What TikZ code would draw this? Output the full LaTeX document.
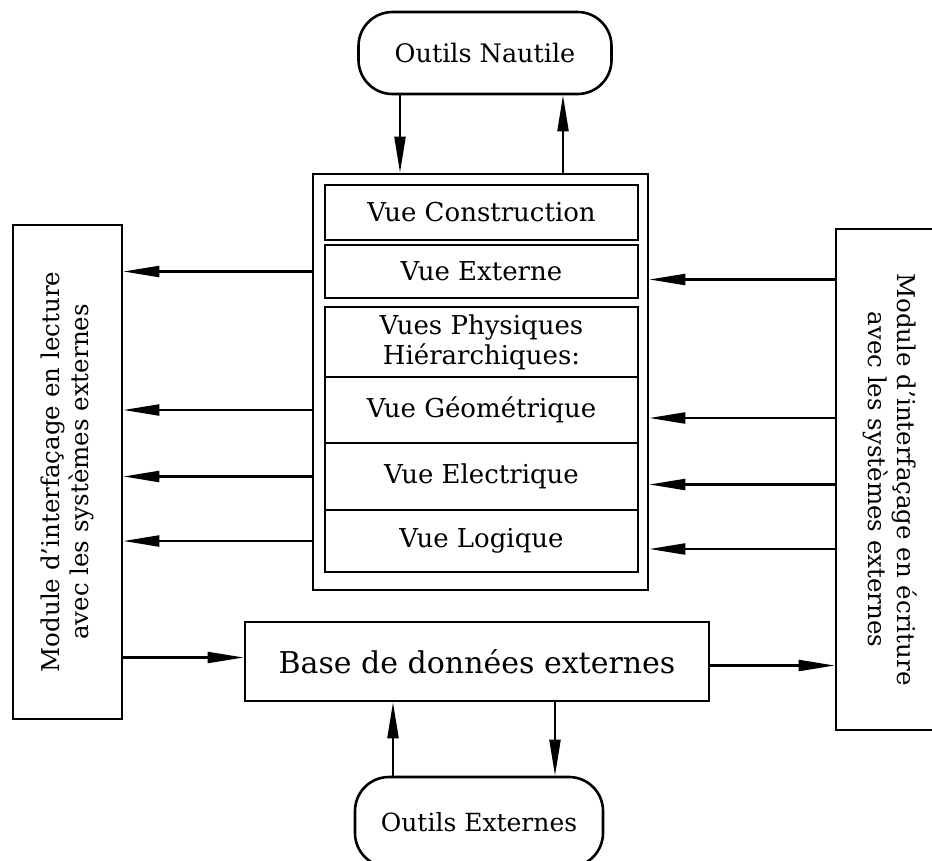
\documentclass[tikz,border=0pt]{standalone}
\usepackage{fontspec}
\setmainfont{DejaVu Serif}
\usetikzlibrary{arrows.meta,calc}
\begin{document}
\begin{tikzpicture}[x=1pt,y=-1pt,
  box/.style={draw, line width=2.6pt, inner sep=0pt, align=center},
  cell/.style={inner sep=0pt, align=center, minimum width=313pt, font=\vuefont},
  divider/.style={line width=1.8pt},
  arr/.style={line width=2.2pt, -{Triangle[length=36pt,width=11pt]}},
]
\newcommand\vuefont{\fontsize{26}{30}\selectfont}
\useasboundingbox (0,0) rectangle (932,860);

% tool boxes
\node[box, rounded corners=34pt, minimum width=253pt, minimum height=82pt,
      font=\fontsize{25.5}{30}\selectfont] (nautile) at (485,53) {Outils Nautile};
\node[box, rounded corners=34pt, minimum width=248pt, minimum height=90pt,
      font=\fontsize{25}{30}\selectfont] (oext) at (479,822) {Outils Externes};

% central block of views
\node[box, minimum width=335pt, minimum height=416pt] (outer) at (480.5,382) {};
\node[box, minimum width=313pt, minimum height=55pt, font=\vuefont] (vcons) at (481.5,212.5) {Vue Construction};
\node[box, minimum width=313pt, minimum height=53pt, font=\vuefont] (vext) at (481.5,271.5) {Vue Externe};
\node[box, minimum width=313pt, minimum height=265pt] (phys) at (481.5,439.5) {};
\node[cell, minimum height=70pt] (vhier) at (481.5,342) {Vues Physiques\\Hiérarchiques:};
\node[cell, minimum height=66pt] (vgeo) at (481.5,410) {Vue Géométrique};
\node[cell, minimum height=67pt] (velec) at (481.5,476.5) {Vue Electrique};
\node[cell, minimum height=62pt] (vlog) at (481.5,541) {Vue Logique};
\draw[divider] (vhier.south west) -- (vhier.south east);
\draw[divider] (vgeo.south west) -- (vgeo.south east);
\draw[divider] (velec.south west) -- (velec.south east);

% interface modules
\node[box, rotate=90, minimum width=494pt, minimum height=109pt,
      font=\fontsize{24.5}{29}\selectfont] (lbox) at (67.5,472)
      {Module d'interfaçage en lecture\\avec les systèmes externes};
\node[box, rotate=-90, minimum width=501pt, minimum height=109pt,
      font=\fontsize{24.5}{29}\selectfont] (rbox) at (890.5,479.5)
      {Module d'interfaçage en écriture\\avec les systèmes externes};

% external database
\node[box, minimum width=464pt, minimum height=79pt,
      font=\fontsize{30}{34}\selectfont] (base) at (477,661.5) {Base de données externes};

% Nautile tools <-> views
\draw[arr] ([xshift=-85pt]nautile.south) -- ($(nautile.south |- outer.north)+(-85,0)$);
\draw[arr] ($(nautile.south |- outer.north)+(78,0)$) -- ([xshift=78pt]nautile.south);

% external tools <-> database
\draw[arr] ([xshift=-86pt]oext.north) -- ($(oext.north |- base.south)+(-86,0)$);
\draw[arr] ($(oext.north |- base.south)+(76,0)$) -- ([xshift=76pt]oext.north);

% views -> reading module
\draw[arr] (vext.west -| outer.west) -- (vext.west -| lbox.south);
\draw[arr] (vgeo.west -| outer.west) -- (vgeo.west -| lbox.south);
\draw[arr] (velec.west -| outer.west) -- (velec.west -| lbox.south);
\draw[arr] (vlog.west -| outer.west) -- (vlog.west -| lbox.south);

% writing module -> views
\draw[arr] ($(vext.east -| rbox.south)+(0,8)$) -- ($(vext.east -| outer.east)+(0,8)$);
\draw[arr] ($(vgeo.east -| rbox.south)+(0,8)$) -- ($(vgeo.east -| outer.east)+(0,8)$);
\draw[arr] ($(velec.east -| rbox.south)+(0,8)$) -- ($(velec.east -| outer.east)+(0,8)$);
\draw[arr] ($(vlog.east -| rbox.south)+(0,8)$) -- ($(vlog.east -| outer.east)+(0,8)$);

% database links with the modules
\draw[arr] ($(base.west -| lbox.south)+(0,-4)$) -- ($(base.west)+(0,-4)$);
\draw[arr] ($(base.east)+(0,4)$) -- ($(base.east -| rbox.south)+(0,4)$);
\end{tikzpicture}
\end{document}
